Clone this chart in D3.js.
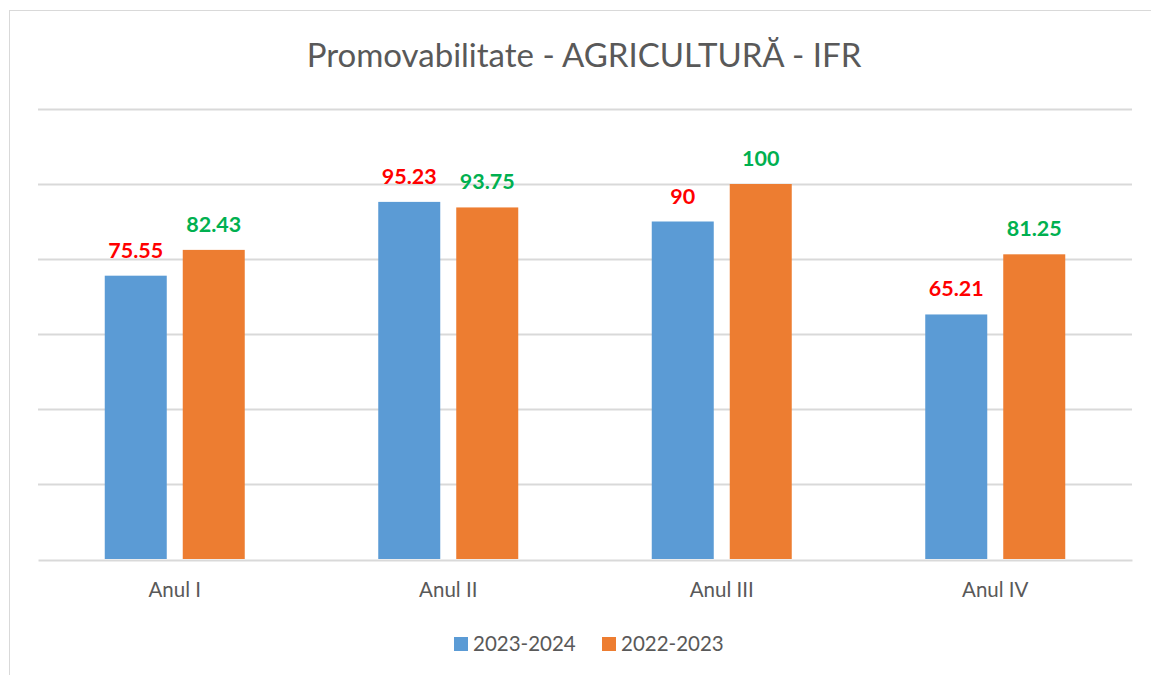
<!DOCTYPE html>
<html>
<head>
<meta charset="utf-8">
<script src="https://cdn.jsdelivr.net/npm/d3@7"></script>
<style>
body { margin: 0; background: #fff; }
text { font-family: Lato, "Open Sans", sans-serif; }
</style>
</head>
<body>
<div id="chart"></div>
<script>
const categories = ["Anul I", "Anul II", "Anul III", "Anul IV"];
const seriesNames = ["2023-2024", "2022-2023"];
const values2324 = [75.55, 95.23, 90, 65.21];
const values2223 = [82.43, 93.75, 100, 81.25];
const yTicks = [0, 20, 40, 60, 80, 100, 120];

const colors = ["#5B9BD5", "#ED7D31"];
const labelColors = ["#FF0000", "#00B050"];

const W = 1151, H = 675;
const svg = d3.select("#chart").append("svg")
  .attr("width", W).attr("height", H);

// chart frame
svg.append("rect")
  .attr("x", 9.5).attr("y", 10.5)
  .attr("width", W + 20).attr("height", H + 20)
  .attr("fill", "#fff").attr("stroke", "#d9d9d9");

svg.append("text")
  .attr("x", 584).attr("y", 67)
  .attr("text-anchor", "middle")
  .attr("font-size", 33)
  .attr("fill", "#595959")
  .text("Promovabilitate - AGRICULTURĂ - IFR");

const y = d3.scaleLinear().domain([0, 120]).range([559, 109]);
const x0 = d3.scaleBand().domain(categories).range([38, 1132]).padding(0);
const x1 = d3.scaleBand().domain(seriesNames).range([0, 140]).paddingInner(0.205);
const off = (x0.bandwidth() - 140) / 2;

// gridlines
svg.append("g").selectAll("line")
  .data(yTicks.filter(d => d > 0))
  .enter().append("line")
  .attr("x1", 38).attr("x2", 1132)
  .attr("y1", d => Math.round(y(d)) + 0.5).attr("y2", d => Math.round(y(d)) + 0.5)
  .attr("stroke", "#d9d9d9").attr("stroke-width", 2);

const seriesData = [values2324, values2223];
const rows = categories.map((c, i) => ({ cat: c, vals: seriesNames.map((s, k) => ({ s, k, v: seriesData[k][i] })) }));

const g = svg.append("g").selectAll("g")
  .data(rows).enter().append("g")
  .attr("transform", d => `translate(${x0(d.cat) + off},0)`);

g.selectAll("rect")
  .data(d => d.vals).enter().append("rect")
  .attr("x", d => x1(d.s))
  .attr("width", x1.bandwidth())
  .attr("y", d => y(d.v))
  .attr("height", d => y(0) - y(d.v))
  .attr("fill", d => colors[d.k]);

g.selectAll("text")
  .data(d => d.vals).enter().append("text")
  .attr("x", d => x1(d.s) + x1.bandwidth() / 2)
  .attr("y", d => y(d.v) - 18)
  .attr("text-anchor", "middle")
  .attr("font-size", 21.5)
  .attr("font-weight", "bold")
  .attr("fill", d => labelColors[d.k])
  .text(d => d.v);

// x axis
const xAxis = svg.append("g")
  .attr("transform", "translate(0,560)")
  .call(d3.axisBottom(x0).tickSize(0).tickPadding(22));
xAxis.select(".domain").attr("stroke", "#d9d9d9").attr("stroke-width", 2);
xAxis.selectAll("text").attr("font-size", 20.5).attr("fill", "#595959")
  .attr("font-family", "Lato, 'Open Sans', sans-serif");

// legend
const leg = svg.append("g").selectAll("g")
  .data(seriesNames).enter().append("g")
  .attr("transform", (d, i) => `translate(${454 + i * 148},637)`);
leg.append("rect").attr("width", 14).attr("height", 14)
  .attr("fill", (d, i) => colors[i]);
leg.append("text").attr("x", 19).attr("y", 14)
  .attr("font-size", 20.5).attr("fill", "#595959")
  .text(d => d);
</script>
</body>
</html>
